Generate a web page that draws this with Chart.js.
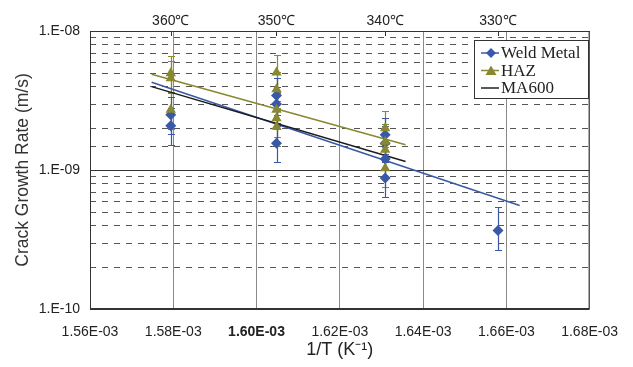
<!DOCTYPE html>
<html>
<head>
<meta charset="utf-8">
<title>Crack Growth Rate vs 1/T</title>
<script src="https://cdn.jsdelivr.net/npm/chart.js@4.4.1/dist/chart.umd.min.js"></script>
<style>
  html, body { margin: 0; padding: 0; background: #fff; }
  #wrap { width: 633px; height: 367px; }
</style>
</head>
<body>
<div id="wrap"><canvas id="myChart" width="633" height="367"></canvas></div>
<script>
// measured points (1/T in K^-1, crack growth rate in m/s)
const weldX  = [1.5794e-3, 1.5794e-3, 1.6048e-3, 1.6048e-3, 1.6048e-3, 1.6309e-3, 1.6309e-3, 1.6309e-3, 1.6309e-3, 1.6580e-3];
const weldY  = [2.50e-9, 2.08e-9, 3.43e-9, 2.99e-9, 1.56e-9, 1.79e-9, 1.56e-9, 1.20e-9, 8.75e-10, 3.67e-10];
const weldHi = [3.33e-9, 2.77e-9, 4.56e-9, 3.98e-9, 2.07e-9, 2.38e-9, 2.07e-9, 1.60e-9, 1.16e-9, 5.40e-10];
const weldLo = [1.83e-9, 1.52e-9, 2.50e-9, 2.18e-9, 1.14e-9, 1.31e-9, 1.14e-9, 8.76e-10, 6.39e-10, 2.67e-10];

const hazX  = [1.5794e-3, 1.5794e-3, 1.5794e-3, 1.6048e-3, 1.6048e-3, 1.6048e-3, 1.6048e-3, 1.6048e-3, 1.6309e-3, 1.6309e-3, 1.6309e-3, 1.6309e-3];
const hazY  = [4.97e-9, 4.57e-9, 2.71e-9, 5.02e-9, 3.81e-9, 2.71e-9, 2.36e-9, 2.05e-9, 2.00e-9, 1.60e-9, 1.40e-9, 1.03e-9];
const hazHi = [6.61e-9, 6.08e-9, 3.60e-9, 6.68e-9, 5.07e-9, 3.60e-9, 3.14e-9, 2.73e-9, 2.66e-9, 2.13e-9, 1.86e-9, 1.37e-9];
const hazLo = [3.63e-9, 3.34e-9, 1.98e-9, 3.66e-9, 2.78e-9, 1.98e-9, 1.72e-9, 1.50e-9, 1.46e-9, 1.17e-9, 1.02e-9, 7.52e-10];

// fitted lines
const weldFitX  = [1.5748e-3, 1.6632e-3];
const weldFitY  = [4.28e-9, 5.56e-10];
const hazFitX   = [1.5748e-3, 1.6358e-3];
const hazFitY   = [4.89e-9, 1.52e-9];
const ma600FitX = [1.5748e-3, 1.6358e-3];
const ma600FitY = [3.98e-9, 1.15e-9];

// axes
const xTickValues = [1.56e-3, 1.58e-3, 1.60e-3, 1.62e-3, 1.64e-3, 1.66e-3, 1.68e-3];
const yTickValues = [1e-10, 1e-9, 1e-8];
const yTickLabels = ['1.E-10', '1.E-09', '1.E-08'];
const topTemps  = [360, 350, 340, 330];
const topLabels = ['360℃', '350℃', '340℃', '330℃'];

const BLUE = '#3a58a8';
const OLIVE = '#87882f';
const SANS = "'Liberation Sans', Arial, sans-serif";

function toPoints(xs, ys) {
    return xs.map((x, i) => ({x: x, y: ys[i]}));
}

// dashed minor / solid major horizontal grid, drawn under the data
const gridPlugin = {
    id: 'logGrid',
    beforeDatasetsDraw(chart) {
        const ctx = chart.ctx, area = chart.chartArea, y = chart.scales.y;
        ctx.save();
        ctx.lineWidth = 1;
        y.ticks.forEach(t => {
            const py = Math.round(y.getPixelForValue(t.value)) + 0.5;
            const lg = Math.log10(t.value);
            const major = Math.abs(lg - Math.round(lg)) < 1e-6;
            ctx.beginPath();
            ctx.strokeStyle = major ? '#333' : '#555';
            ctx.setLineDash(major ? [] : [6, 6]);
            ctx.moveTo(area.left, py);
            ctx.lineTo(area.right, py);
            ctx.stroke();
        });
        ctx.restore();

        // error bars
        ctx.save();
        ctx.lineWidth = 1.2;
        chart.data.datasets.forEach((ds, i) => {
            if (!ds.errHi) return;
            const meta = chart.getDatasetMeta(i);
            ctx.strokeStyle = ds.borderColor;
            meta.data.forEach((pt, j) => {
                const px = Math.round(pt.x) + 0.5;
                const yh = Math.round(y.getPixelForValue(ds.errHi[j])) + 0.5;
                const yl = Math.round(y.getPixelForValue(ds.errLo[j])) + 0.5;
                ctx.beginPath();
                ctx.moveTo(px, yh); ctx.lineTo(px, yl);
                ctx.moveTo(px - 3.5, yh); ctx.lineTo(px + 3.5, yh);
                ctx.moveTo(px - 3.5, yl); ctx.lineTo(px + 3.5, yl);
                ctx.stroke();
            });
        });
        ctx.restore();
    },
    afterDatasetsDraw(chart) {
        const ctx = chart.ctx, area = chart.chartArea, top = chart.scales.xTop;
        ctx.save();
        ctx.strokeStyle = '#333';
        ctx.lineWidth = 1;
        ctx.strokeRect(area.left + 0.5, area.top + 0.5, area.right - area.left - 1, area.bottom - area.top - 1);
        top.ticks.forEach(t => {
            const px = Math.round(top.getPixelForValue(t.value)) + 0.5;
            ctx.beginPath();
            ctx.moveTo(px, area.top);
            ctx.lineTo(px, area.top + 5);
            ctx.stroke();
        });
        ctx.restore();
    }
};

// legend box inside the plot, top right
const legendPlugin = {
    id: 'boxLegend',
    afterDraw(chart) {
        const ctx = chart.ctx;
        const bx = 474, by = 40, bw = 114, bh = 58;
        ctx.save();
        ctx.fillStyle = '#fff';
        ctx.fillRect(bx, by, bw, bh);
        ctx.strokeStyle = '#333';
        ctx.lineWidth = 1;
        ctx.strokeRect(bx + 0.5, by + 0.5, bw, bh);

        const rows = [
            {label: 'Weld Metal', color: BLUE, marker: 'diamond'},
            {label: 'HAZ', color: OLIVE, marker: 'triangle'},
            {label: 'MA600', color: '#222', marker: null}
        ];
        rows.forEach((r, i) => {
            const cy = by + 13 + i * 17.5;
            ctx.strokeStyle = r.color;
            ctx.lineWidth = 1.5;
            ctx.beginPath();
            ctx.moveTo(481, cy); ctx.lineTo(499, cy);
            ctx.stroke();
            ctx.fillStyle = r.color;
            if (r.marker === 'diamond') {
                ctx.beginPath();
                ctx.moveTo(491, cy - 5); ctx.lineTo(496, cy); ctx.lineTo(491, cy + 5); ctx.lineTo(486, cy);
                ctx.closePath(); ctx.fill();
            } else if (r.marker === 'triangle') {
                ctx.beginPath();
                ctx.moveTo(491, cy - 5); ctx.lineTo(496.5, cy + 4.5); ctx.lineTo(485.5, cy + 4.5);
                ctx.closePath(); ctx.fill();
            }
            ctx.fillStyle = '#222';
            ctx.font = "17px 'Liberation Serif', 'Times New Roman', serif";
            ctx.textBaseline = 'middle';
            ctx.fillText(r.label, 501, cy + 1);
        });
        ctx.restore();
    }
};

const ctx = document.getElementById('myChart').getContext('2d');
const myChart = new Chart(ctx, {
    type: 'scatter',
    data: {
        datasets: [
            {
                label: 'HAZ',
                data: toPoints(hazX, hazY),
                errHi: hazHi, errLo: hazLo,
                pointStyle: 'triangle',
                pointRadius: 6,
                backgroundColor: OLIVE,
                borderColor: OLIVE,
                borderWidth: 0,
                order: 1
            },
            {
                label: 'Weld Metal',
                data: toPoints(weldX, weldY),
                errHi: weldHi, errLo: weldLo,
                pointStyle: 'rectRot',
                pointRadius: 5.5,
                backgroundColor: BLUE,
                borderColor: BLUE,
                borderWidth: 0,
                order: 2
            },
            {
                label: 'HAZ fit',
                data: toPoints(hazFitX, hazFitY),
                showLine: true, pointRadius: 0,
                borderColor: OLIVE, borderWidth: 1.5,
                order: 3
            },
            {
                label: 'MA600',
                data: toPoints(ma600FitX, ma600FitY),
                showLine: true, pointRadius: 0,
                borderColor: '#1a1a1a', borderWidth: 1.5,
                order: 4
            },
            {
                label: 'Weld Metal fit',
                data: toPoints(weldFitX, weldFitY),
                showLine: true, pointRadius: 0,
                borderColor: BLUE, borderWidth: 1.5,
                order: 5
            }
        ]
    },
    options: {
        responsive: false,
        animation: false,
        layout: { padding: { left: 0, right: 39, top: 0, bottom: 0 } },
        plugins: {
            legend: { display: false },
            tooltip: { enabled: false }
        },
        scales: {
            x: {
                type: 'linear',
                position: 'bottom',
                min: 1.56e-3,
                max: 1.68e-3,
                afterBuildTicks: s => { s.ticks = xTickValues.map(v => ({value: v})); },
                afterFit: s => { s.height = 58; },
                grid: { color: '#8a8a8a', lineWidth: 1, drawTicks: false },
                border: { display: false },
                ticks: {
                    padding: 15,
                    color: '#222',
                    autoSkip: false,
                    maxRotation: 0,
                    font: c => ({
                        family: SANS, size: 14,
                        weight: (c.tick && Math.abs(c.tick.value - 1.60e-3) < 1e-9) ? 'bold' : 'normal'
                    }),
                    callback: v => (v * 1000).toFixed(2) + 'E-03'
                },
                title: {
                    display: true,
                    text: '1/T (K⁻¹)',
                    color: '#222',
                    font: { family: SANS, size: 18 },
                    padding: { top: 0, bottom: 6 }
                }
            },
            xTop: {
                type: 'linear',
                position: 'top',
                min: 1.56e-3,
                max: 1.68e-3,
                afterBuildTicks: s => { s.ticks = topTemps.map(t => ({value: 1 / (t + 273.15)})); },
                afterFit: s => { s.height = 31; },
                grid: { display: false, drawTicks: false },
                border: { display: false },
                ticks: {
                    padding: 1,
                    color: '#222',
                    autoSkip: false,
                    maxRotation: 0,
                    font: { family: SANS, size: 14 },
                    callback: (v, i) => topLabels[i]
                }
            },
            y: {
                type: 'logarithmic',
                min: 1e-10,
                max: 1e-8,
                afterFit: s => { s.width = 90; },
                grid: { display: false, drawTicks: false },
                border: { display: false },
                ticks: {
                    padding: 10,
                    color: '#222',
                    autoSkip: false,
                    font: { family: SANS, size: 14 },
                    callback: v => {
                        const k = yTickValues.findIndex(t => Math.abs(t - v) / t < 1e-6);
                        return k >= 0 ? yTickLabels[k] : '';
                    }
                },
                title: {
                    display: true,
                    text: 'Crack Growth Rate (m/s)',
                    color: '#333',
                    font: { family: SANS, size: 17.5 },
                    padding: { top: 13, bottom: 0 }
                }
            }
        }
    },
    plugins: [gridPlugin, legendPlugin]
});
</script>
</body>
</html>
